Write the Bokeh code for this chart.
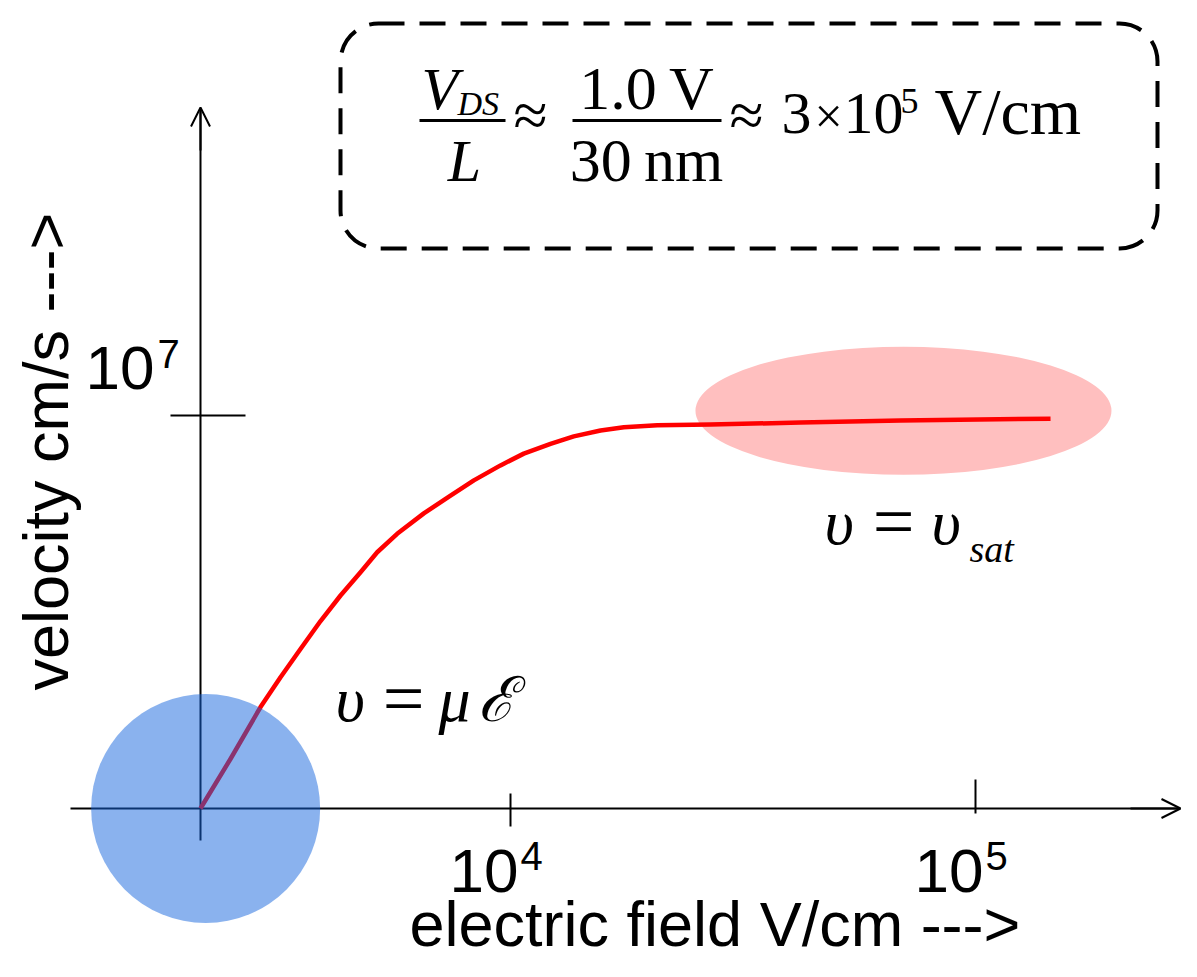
import math
from bokeh.plotting import figure
from bokeh.models import Range1d, Arrow, OpenHead
from bokeh.core.properties import value
from bokeh.embed import file_html
from bokeh.resources import INLINE

# ---------------- data ----------------
field_v_cm = [2154, 2499, 2900, 3202, 3535, 3904, 4310, 4759, 5168, 5705,
              6510, 7430, 8340, 9517, 10680, 12190, 13680, 15620, 17530,
              20680, 26920, 42050, 68990, 145000]
velocity_cm_s = [0, 1.26e6, 2.58e6, 3.34e6, 4.06e6, 4.77e6, 5.42e6, 6.01e6,
                 6.52e6, 6.99e6, 7.51e6, 7.96e6, 8.35e6, 8.73e6, 9.03e6,
                 9.28e6, 9.47e6, 9.62e6, 9.70e6, 9.75e6, 9.77e6, 9.82e6,
                 9.87e6, 9.92e6]
field_origin = 10 ** (10 / 3)          # where the schematic axes cross
x_ticks = [1e4, 1e5]
x_tick_exp = ["4", "5"]
y_ticks = [1e7]
y_tick_exp = ["7"]
x_label = "electric field V/cm --->"
y_label = "velocity cm/s --->"
linear_center = [2210, 0.0]            # blue highlight (mobility region)
sat_center = [7.0e4, 1.012e7]          # pink highlight (saturation region)

# ---------------- layout helpers (picture pixel -> data) ----------------
W, H = 1181, 961


def fx(sx):
    return 10 ** (4 + (sx - 510) / 465)


def fy(sy):
    return (808 - sy) / 393 * 1e7


p = figure(width=W, height=H, x_axis_type="log",
           x_range=Range1d(fx(0), fx(W)), y_range=Range1d(fy(H), fy(0)),
           x_axis_location=None, y_axis_location=None,
           output_backend="svg", toolbar_location=None, min_border=0)
p.outline_line_color = None
p.grid.visible = False
p.background_fill_color = "white"

# saturation ellipse
p.ellipse(x=[sat_center[0]], y=[sat_center[1]], width=416, height=128,
          width_units="screen", height_units="screen",
          fill_color="#FFBFBF", line_color=None)

# dashed rounded box
p.quad(left=[fx(340)], right=[fx(1157)], top=[fy(23)], bottom=[fy(248)],
       border_radius=38, fill_color=None, line_color="black",
       line_width=4, line_dash="26 15")

# axes
p.segment(x0=[fx(70)], y0=[0], x1=[fx(1179)], y1=[0], line_color="black", line_width=2)
p.segment(x0=[field_origin], y0=[fy(840)], x1=[field_origin], y1=[fy(109)],
          line_color="black", line_width=2)
# ticks
p.segment(x0=[x_ticks[0]], y0=[fy(793)], x1=[x_ticks[0]], y1=[fy(826)],
          line_color="black", line_width=2)
p.segment(x0=[x_ticks[1]], y0=[fy(779)], x1=[x_ticks[1]], y1=[fy(813)],
          line_color="black", line_width=2)
p.segment(x0=[fx(170)], y0=[y_ticks[0]], x1=[fx(245)], y1=[y_ticks[0]],
          line_color="black", line_width=2)

# curve
p.line(field_v_cm, velocity_cm_s, line_color="#FF0000", line_width=4.5,
       line_join="round")

# linear-region circle (translucent, on top)
p.scatter(x=[linear_center[0]], y=[linear_center[1]], size=229, marker="circle",
          fill_color="#1565DD", fill_alpha=0.5, line_color=None)

SANS = value("Liberation Sans")
SERIF = value("Liberation Serif")
K = 0.36  # empirical baseline correction (fraction of font size)


def txt(sx, sy, s, size, font=SANS, style="normal", align="left", rotated=False):
    if rotated:
        x, y, ang = fx(sx - K * size), fy(sy), math.pi / 2
    else:
        x, y, ang = fx(sx), fy(sy - K * size), 0.0
    p.text(x=[x], y=[y], text=[s], text_font=font, text_font_size=f"{size}px",
           text_font_style=style, text_align=align, text_baseline="alphabetic",
           text_color="black", angle=ang)


# tick labels
txt(154, 390, "10", 62, align="right")
txt(157, 368, y_tick_exp[0], 40)
txt(518, 893, "10", 62, align="right")
txt(520, 870, x_tick_exp[0], 40)
txt(983, 893, "10", 62, align="right")
txt(985, 870, x_tick_exp[1], 40)

# axis labels
txt(409, 946, x_label, 63)
txt(68, 690, y_label, 63, rotated=True)

# v = mu E
txt(335, 722, "υ", 64, SERIF, "italic")
txt(403, 724, "=", 74, SERIF, align="center")
txt(438, 722, "μ", 64, SERIF, "italic")
txt(477, 722, "ℰ", 62, SERIF, "italic")

# v = v_sat
txt(824, 545, "υ", 64, SERIF, "italic")
txt(893, 547, "=", 74, SERIF, align="center")
txt(931, 545, "υ", 64, SERIF, "italic")
txt(969, 562, "sat", 38, SERIF, "italic")

# formula in the box
txt(421, 110, "V", 60, SERIF, "italic")
txt(457, 115, "DS", 34, SERIF, "italic")
p.segment(x0=[fx(419)], y0=[fy(120)], x1=[fx(505)], y1=[fy(120)], line_color="black", line_width=3)
txt(464, 182, "L", 60, SERIF, "italic", align="center")
txt(530, 137, "≈", 62, SERIF, align="center")
txt(646, 110, "1.0\u2009V", 62, SERIF, align="center")
p.segment(x0=[fx(572)], y0=[fy(120)], x1=[fx(721)], y1=[fy(120)], line_color="black", line_width=3)
txt(646, 182, "30\u2009nm", 62, SERIF, align="center")
txt(746, 137, "≈", 62, SERIF, align="center")
txt(781, 135, "3", 60, SERIF)
txt(828, 133, "×", 50, SERIF, align="center")
txt(843, 135, "10", 60, SERIF)
txt(900, 113, "5", 36, SERIF)
txt(934, 135, "V/cm", 66, SERIF)

# arrow heads
p.add_layout(Arrow(end=OpenHead(size=19, line_width=2, line_color="black"),
                   x_start=field_origin, y_start=fy(150), x_end=field_origin, y_end=fy(107),
                   line_width=2, line_color="black"))
p.add_layout(Arrow(end=OpenHead(size=19, line_width=2, line_color="black"),
                   x_start=fx(1130), y_start=0, x_end=fx(1180), y_end=0,
                   line_width=2, line_color="black"))

open("out.html", "w").write(file_html(p, INLINE))
